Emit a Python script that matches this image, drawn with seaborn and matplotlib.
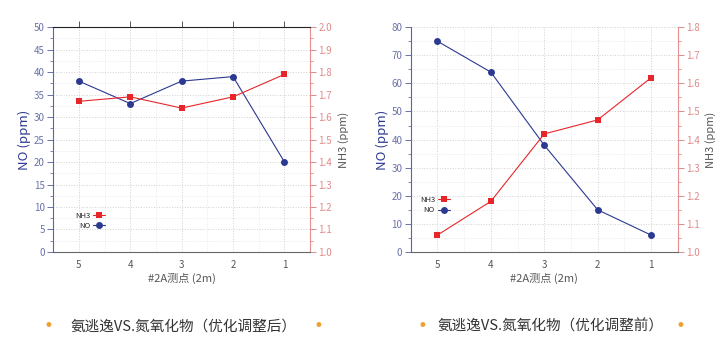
import pandas as pd
import seaborn as sns
import matplotlib.pyplot as plt
from matplotlib.ticker import MultipleLocator

sns.set_style("white")
plt.rcParams['font.family'] = ['Noto Sans CJK SC', 'DejaVu Sans']

# measuring points, drawn right-to-left as in the reference
points = [5, 4, 3, 2, 1]

# after optimisation (left panel)
no_after = [38, 33, 38, 39, 20]
nh3_after = [1.67, 1.69, 1.64, 1.69, 1.79]

# before optimisation (right panel)
no_before = [75, 64, 38, 15, 6]
nh3_before = [1.06, 1.18, 1.42, 1.47, 1.62]

captions = ["氨逃逸VS.氮氧化物（优化调整后）", "氨逃逸VS.氮氧化物（优化调整前）"]
xlabel = "#2A测点 (2m)"

NO_C = "#2b3990"
NH3_C = "#e8262a"
GRID_C = "#d0d0d0"


def panel(fig, rect, no, nh3, no_max, no_step, nh3_max, legend_pos, top_spine):
    df = pd.DataFrame({"point": points, "NO": no, "NH3": nh3})
    ax = fig.add_axes(rect)
    ax2 = ax.twinx()
    sns.lineplot(data=df, x="point", y="NO", marker="o", color=NO_C, lw=0.8,
                 markersize=5, markeredgewidth=0, ax=ax, label="NO", legend=False)
    sns.lineplot(data=df, x="point", y="NH3", marker="s", color=NH3_C, lw=0.8,
                 markersize=5, markeredgewidth=0, ax=ax2, label="NH3", legend=False)

    ax.set_xlim(5.5, 0.5)
    ax.set_ylim(0, no_max)
    ax2.set_ylim(1.0, nh3_max)
    ax.set_xticks(points)
    ax.xaxis.set_minor_locator(MultipleLocator(0.5))
    ax.yaxis.set_major_locator(MultipleLocator(no_step))
    ax.yaxis.set_minor_locator(MultipleLocator(no_step / 2))
    ax2.yaxis.set_major_locator(MultipleLocator(0.1))
    ax2.yaxis.set_minor_locator(MultipleLocator(0.05))
    ax2.set_yticklabels([f"{v:.1f}" for v in ax2.get_yticks()])

    ax.grid(True, which="major", ls=":", lw=0.7, color=GRID_C)
    ax.grid(True, which="minor", ls=":", lw=0.5, color="#e0e0e0")
    ax.set_axisbelow(True)

    ax.tick_params(axis="x", which="major", direction="out", length=4, width=0.7,
                   labelsize=7, colors="#555555", pad=2)
    ax.tick_params(axis="x", which="minor", direction="out", length=2, width=0.6)
    ax.tick_params(axis="y", which="major", direction="out", length=4, width=0.7,
                   labelsize=7, colors="#6a72a8", pad=2)
    ax.tick_params(axis="y", which="minor", direction="out", length=2, width=0.6,
                   colors="#6a72a8")
    ax2.tick_params(axis="y", which="major", direction="out", length=4, width=0.7,
                    labelsize=7, colors="#e08a8a", pad=2)
    ax2.tick_params(axis="y", which="minor", direction="out", length=2, width=0.6,
                    colors="#e08a8a")

    for a in (ax, ax2):
        for s in a.spines.values():
            s.set_linewidth(0.8)
    ax2.spines["left"].set_color("#5a64a8")
    ax2.spines["right"].set_color("#e89090")
    ax2.spines["bottom"].set_color("#666666")
    ax2.spines["top"].set_visible(top_spine)
    ax2.spines["top"].set_color("#222222")
    ax.spines["top"].set_visible(False)
    ax.spines["right"].set_visible(False)
    ax.spines["left"].set_visible(False)
    ax.spines["bottom"].set_visible(False)
    if top_spine:
        ax.tick_params(axis="x", which="major", top=True, labeltop=False,
                       direction="out")

    ax.set_xlabel(xlabel, fontsize=8, color="#555555", labelpad=2)
    ax.set_ylabel("NO (ppm)", fontsize=9.5, color="#2b3990", labelpad=2)
    ax2.set_ylabel("NH3 (ppm)", fontsize=8, color="#555555", labelpad=4)

    h1, l1 = ax.get_legend_handles_labels()
    h2, l2 = ax2.get_legend_handles_labels()
    ax2.legend(h2 + h1, l2 + l1, loc="lower left", bbox_to_anchor=legend_pos,
               frameon=False, fontsize=5.5, markerfirst=False, handlelength=1.6,
               labelspacing=0.3, borderpad=0, handletextpad=0.4)
    return ax


fig = plt.figure(figsize=(7.18, 3.62), dpi=100)
panel(fig, [0.074, 0.304, 0.358, 0.621], no_after, nh3_after, 50, 5, 2.0,
      (0.07, 0.08), True)
panel(fig, [0.572, 0.304, 0.372, 0.621], no_before, nh3_before, 80, 10, 1.8,
      (0.02, 0.15), False)

for cx, x0, x1, txt in [(0.255, 0.067, 0.443, captions[0]),
                        (0.767, 0.588, 0.947, captions[1])]:
    fig.text(cx, 0.099, txt, ha="center", va="center", fontsize=10.5, color="#333333")
    for bx in (x0, x1):
        fig.text(bx, 0.099, "•", ha="center", va="center", fontsize=12,
                 color="#f0a030", family="DejaVu Sans")

fig.savefig("out.png", dpi=100)
